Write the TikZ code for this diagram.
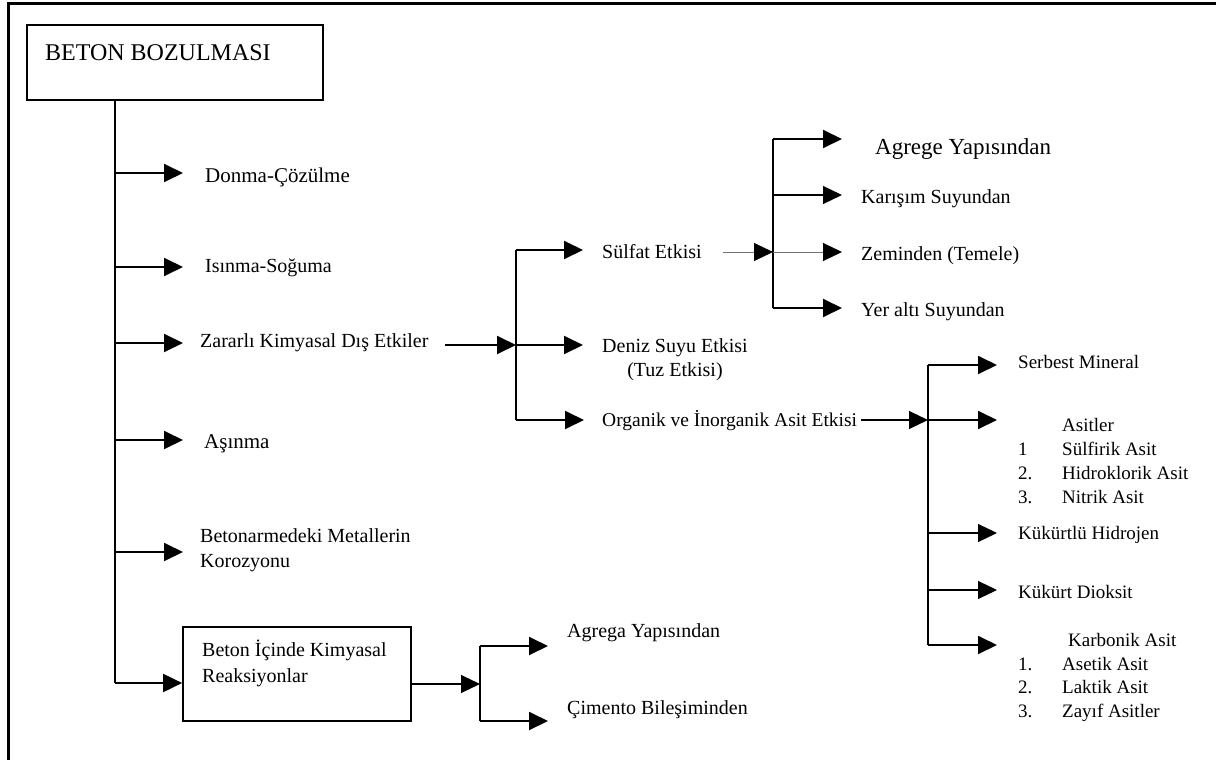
\documentclass[tikz,border=0pt]{standalone}
\usepackage{fontspec}
\setmainfont{Liberation Serif}
\usetikzlibrary{arrows.meta}
\begin{document}
\begin{tikzpicture}[x=1pt,y=-1pt,
  arr/.style={line width=1.9pt,-{Triangle[length=19pt,width=18pt]}},
  tarr/.style={line width=1.1pt,-{Triangle[length=19pt,width=18pt]}},
  garr/.style={line width=1pt,draw=black!55,-{Triangle[length=19pt,width=18pt,fill=black,color=black]}},
  ln/.style={line width=1.9pt},
  txt/.style={anchor=west,inner sep=0pt,font=\fontsize{20}{24}\selectfont},
  stxt/.style={anchor=west,inner sep=0pt,font=\fontsize{19}{24}\selectfont},
  boxx/.style={draw,line width=1.7pt,inner sep=0pt}]
\useasboundingbox (0,0) rectangle (1216,760);
% frame
\draw[line width=3pt] (8,760) -- (8,4) -- (1216,4);

% root
\node[boxx,minimum width=296pt,minimum height=75pt] (root) at (175,62.5) {};
\node[anchor=west,inner sep=0pt,font=\fontsize{24}{28}\selectfont] (roottxt) at (45,53) {BETON BOZULMASI};

% trunk
\coordinate (t0) at (115,100);
\coordinate (t1) at (115,173);
\coordinate (t2) at (115,267);
\coordinate (t3) at (115,343);
\coordinate (t4) at (115,440);
\coordinate (t5) at (115,552);
\coordinate (t6) at (115,683);
\draw[ln] (t0) -- (t6);

\node[txt,font=\fontsize{21}{24}\selectfont] (donma) at (205,177) {Donma-Çözülme};
\node[txt] (isinma) at (205,268) {Isınma-Soğuma};
\node[txt] (zararli) at (200,343) {Zararlı Kimyasal Dış Etkiler};
\node[txt,font=\fontsize{21}{24}\selectfont] (asinma) at (204,444) {Aşınma};
\node[txt,align=left,font=\fontsize{20}{25}\selectfont] (beton) at (200,550) {Betonarmedeki Metallerin\\Korozyonu};

\draw[arr] (t1) -- (183,173);
\draw[arr] (t2) -- (183,267);
\draw[arr] (t3) -- (183,343);
\draw[arr] (t4) -- (183,440);
\draw[arr] (t5) -- (183,552);

% reaction box
\node[boxx,minimum width=228pt,minimum height=94pt] (react) at (297,674) {};
\node[txt,align=left,font=\fontsize{20}{26}\selectfont] (reacttxt) at (202,663) {Beton İçinde Kimyasal\\Reaksiyonlar};
\draw[arr] (t6) -- (react.west |- t6);

\coordinate (r0) at (480,684);
\coordinate (r1) at (480,646);
\coordinate (r2) at (480,721);
\draw[tarr] (react.east |- r0) -- (r0);
\draw[ln] (r1) -- (r2);
\node[txt] (agrega) at (567,633) {Agrega Yapısından};
\node[txt] (cimento) at (567,710) {Çimento Bileşiminden};
\draw[arr] (r1) -- (548,646);
\draw[arr] (r2) -- (548,721);

% zararli branch
\coordinate (z0) at (516,345);
\coordinate (z1) at (516,250);
\coordinate (z2) at (516,420);
\draw[arr] (445,345) -- (z0);
\draw[ln] (z1) -- (z2);
\node[txt] (sulfat) at (602,252) {Sülfat Etkisi};
\node[txt,align=center] (deniz) at (602,360) {Deniz Suyu Etkisi\\(Tuz Etkisi)};
\node[txt,font=\fontsize{19.5}{24}\selectfont] (organik) at (602,421) {Organik ve İnorganik Asit Etkisi};
\draw[arr] (z1) -- (583,250);
\draw[arr] (z0) -- (583,345);
\draw[arr] (z2) -- (584,420);

% sulfat branch
\coordinate (s0) at (773,252);
\coordinate (s1) at (773,139);
\coordinate (s2) at (773,195);
\coordinate (s4) at (773,308);
\draw[garr] (723,252) -- (s0);
\draw[ln] (s1) -- (s4);
\node[txt,font=\fontsize{23}{26}\selectfont] (agrege) at (875,149) {Agrege Yapısından};
\node[txt] (karisim) at (861,199) {Karışım Suyundan};
\node[txt] (zeminden) at (861,256) {Zeminden (Temele)};
\node[txt] (yeralti) at (861,312) {Yer altı Suyundan};
\draw[arr] (s1) -- (842,139);
\draw[tarr] (s2) -- (842,195);
\draw[garr] (s0) -- (842,252);
\draw[arr] (s4) -- (842,308);

% organik branch
\coordinate (o0) at (928,420);
\coordinate (o1) at (928,365);
\coordinate (o3) at (928,533);
\coordinate (o4) at (928,590);
\coordinate (o5) at (928,645);
\draw[tarr] ([xshift=4pt]organik.east |- o0) -- (o0);
\draw[ln] (o1) -- (o5);
\draw[arr] (o1) -- (997,365);
\draw[arr] (o0) -- (997,420);
\draw[tarr] (o3) -- (997,533);
\draw[tarr] (o4) -- (997,590);
\draw[arr] (o5) -- (997,645);

\node[stxt] (serbest) at (1018,362) {Serbest Mineral};
\node[stxt,align=left] (asitler) at (1018,461) {\hspace*{44pt}Asitler\\\makebox[44pt][l]{1}Sülfirik Asit\\\makebox[44pt][l]{2.}Hidroklorik Asit\\\makebox[44pt][l]{3.}Nitrik Asit};
\node[stxt] (kukurtlu) at (1018,535) {Kükürtlü Hidrojen};
\node[stxt] (dioksit) at (1018,592) {Kükürt Dioksit};
\node[stxt,align=left,font=\fontsize{19}{23.7}\selectfont] (karbonik) at (1018,677.5) {\hspace*{50pt}Karbonik Asit\\\makebox[44pt][l]{1.}Asetik Asit\\\makebox[44pt][l]{2.}Laktik Asit\\\makebox[44pt][l]{3.}Zayıf Asitler};
\end{tikzpicture}
\end{document}
